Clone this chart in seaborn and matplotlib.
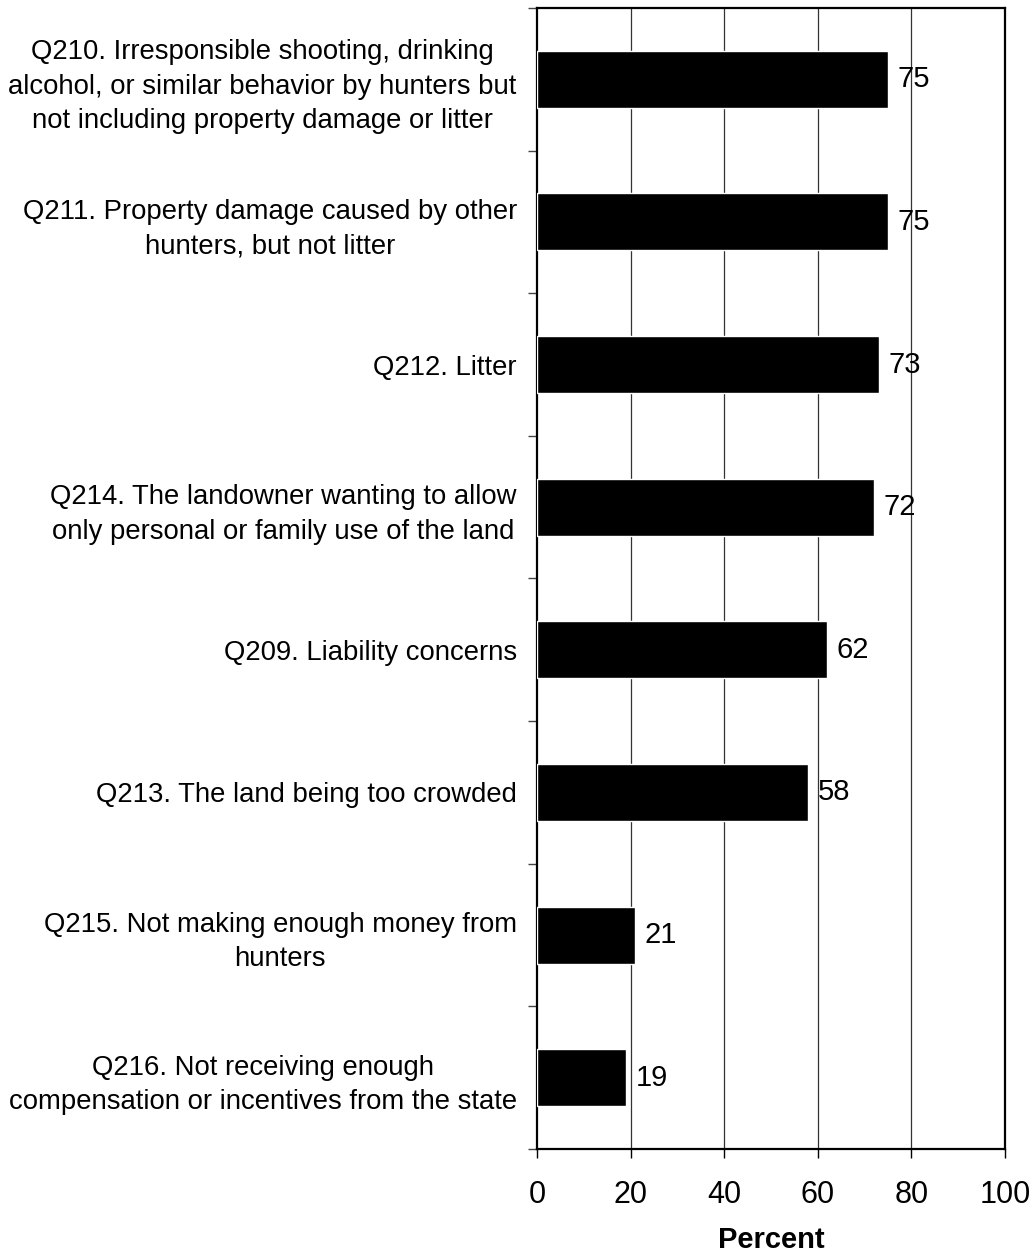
import matplotlib
matplotlib.use("Agg")
import matplotlib.pyplot as plt
import seaborn as sns
import pandas as pd

# 数据
categories = [
    "Q210. Irresponsible shooting, drinking\nalcohol, or similar behavior by hunters but\nnot including property damage or litter",
    "Q211. Property damage caused by other\nhunters, but not litter",
    "Q212. Litter",
    "Q214. The landowner wanting to allow\nonly personal or family use of the land",
    "Q209. Liability concerns",
    "Q213. The land being too crowded",
    "Q215. Not making enough money from\nhunters",
    "Q216. Not receiving enough\ncompensation or incentives from the state",
]
percents = [75, 75, 73, 72, 62, 58, 21, 19]
x_ticks = [0, 20, 40, 60, 80, 100]

df = pd.DataFrame({"category": categories, "percent": percents})

sns.set_style("white")
plt.rcParams['font.family'] = ['Liberation Sans', 'DejaVu Sans']
plt.rcParams['text.color'] = 'black'
plt.rcParams['axes.labelcolor'] = 'black'
plt.rcParams['xtick.color'] = 'black'
plt.rcParams['ytick.color'] = 'black'

fig = plt.figure(figsize=(10.34, 12.55), dpi=100)
ax = fig.add_axes([0.5193, 0.08446, 0.4526, 0.90917])

sns.barplot(data=df, x="percent", y="category", orient="h", color="black",
            width=0.4, saturation=1, ax=ax, zorder=3)

ax.bar_label(ax.containers[0], labels=[str(v) for v in percents],
             padding=7, fontsize=21, color='black', zorder=4)

ax.set_xlim(0, 100)
ax.set_ylim(len(categories) - 0.5, -0.5)
ax.set_xticks(x_ticks)
ax.set_xticklabels([str(t) for t in x_ticks], fontsize=22)
ax.tick_params(axis='x', direction='out', length=6.5, width=1, pad=16, bottom=True)

# 类别标签放在中心，刻度线放在类别边界
ax.set_yticks(range(len(categories)))
ax.set_yticklabels(categories, fontsize=19.8, linespacing=1.42,
                   ha='right', multialignment='center')
ax.tick_params(axis='y', which='major', length=0, pad=14.5)
ax.set_yticks([i - 0.5 for i in range(len(categories) + 1)], minor=True)
ax.tick_params(axis='y', which='minor', direction='out', length=6.5, width=1,
               left=True, color='#444444')

ax.grid(False)
for t in x_ticks[1:-1]:
    ax.axvline(t, color='#333333', linewidth=0.9, zorder=1)

for s in ax.spines.values():
    s.set_color('black')
    s.set_linewidth(1.6)

ax.set_xlabel("Percent", fontsize=21, fontweight='bold', labelpad=11)
ax.set_ylabel("")

plt.savefig("out.png", dpi=100)
